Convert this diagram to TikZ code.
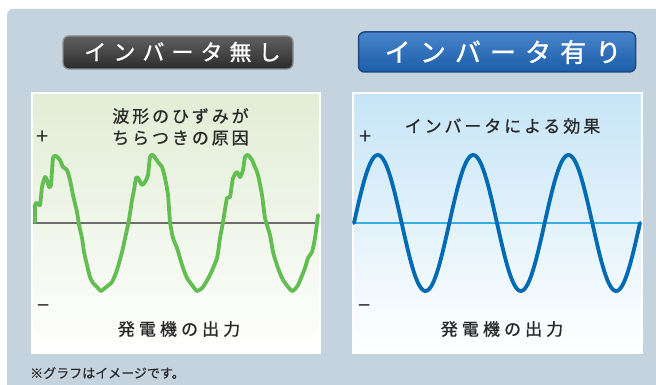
\documentclass[tikz,border=0pt]{standalone}
\usepackage{fontspec}
\setmainfont{Noto Sans CJK JP}
\definecolor{panelbg}{RGB}{197,211,223}
\definecolor{greentop}{RGB}{225,237,213}
\definecolor{bluetop}{RGB}{198,229,247}
\definecolor{wavegreen}{RGB}{98,190,80}
\definecolor{waveblue}{RGB}{0,106,180}
\definecolor{axisblue}{RGB}{58,174,226}
\definecolor{axisgray}{RGB}{110,110,110}
\definecolor{labelc}{RGB}{40,40,40}
\definecolor{btngraytop}{RGB}{96,96,96}
\definecolor{btngraybot}{RGB}{44,44,44}
\definecolor{btngrayedge}{RGB}{140,140,140}
\definecolor{btnbluetop}{RGB}{72,132,202}
\definecolor{btnbluebot}{RGB}{28,94,170}
\definecolor{btnblueedge}{RGB}{30,72,130}
\tikzset{
  chartbox/.style={draw=white, line width=1.5pt, inner sep=0pt},
  lbl/.style={text=labelc, inner sep=0pt, font=\fontsize{17}{19}\selectfont\addfontfeature{LetterSpace=17,FakeBold=0.8}},
  outlbl/.style={text=labelc, inner sep=0pt, font=\fontsize{17}{19}\selectfont\addfontfeature{LetterSpace=24,FakeBold=0.8}},
  signlbl/.style={text=labelc, inner sep=0pt, font=\fontsize{22}{24}\selectfont},
  btngray/.style={rounded corners=6pt, top color=btngraytop, bottom color=btngraybot, draw=btngrayedge, line width=1.3pt, inner sep=0pt},
  btnblue/.style={rounded corners=6pt, top color=btnbluetop, bottom color=btnbluebot, draw=btnblueedge, line width=1.5pt, inner sep=0pt},
  btntext/.style={text=white, inner sep=0pt},
  wave/.style={line width=3.8pt, line join=round, line cap=round}
}
\begin{document}
\begin{tikzpicture}[x=1pt, y=-1pt]
\useasboundingbox (0,0) rectangle (656,385);
\clip (0,0) rectangle (656,385);
\fill[white] (0,0) rectangle (656,385);
\fill[panelbg, rounded corners=6pt] (7,9) rectangle (690,420);

% buttons
\node[btngray, minimum width=230pt, minimum height=33pt] (btnL) at (178,52.5) {};
\node[btntext, font=\fontsize{22}{24}\selectfont\addfontfeature{LetterSpace=32,FakeBold=1}] (btnLt) at (179,52) {\hspace{7pt}インバータ無し};
\node[btnblue, minimum width=277pt, minimum height=40pt] (btnR) at (497,52) {};
\node[btntext, font=\fontsize{26}{28}\selectfont\addfontfeature{LetterSpace=35,FakeBold=1.2}] (btnRt) at (498.5,52) {\hspace{9pt}インバータ有り};

% chart panels
\node[chartbox, top color=greentop, middle color=white, bottom color=white, minimum width=288pt, minimum height=260pt] (chartL) at (176,223) {};
\node[chartbox, top color=bluetop, middle color=white, bottom color=white, minimum width=289pt, minimum height=260pt] (chartR) at (497.5,223) {};

% axes
\draw[axisgray, line width=1.3pt] (33,223) -- (319,223);
\draw[axisblue, line width=1.3pt] (354,223) -- (641,223);

% green distorted wave
\draw[wavegreen, wave] plot[smooth, tension=0.35] coordinates {
(35,222) (35,205) (37,203) (40,205) (42,187) (45,177) (47,180) (49,187) (51,185)
(53,158) (56,156) (60,160) (63,167) (67,170) (70,180) (73,195) (77,212) (79,225)
(82,238) (84,252) (87,265) (90,277) (93,283) (97,287) (101,291) (105,288) (112,282)
(117,270) (122,252) (126,234) (129,220) (132,200) (134,190) (136,178) (138,178) (142,185)
(145,182) (148,175) (150,157) (153,155) (158,162) (162,167) (165,178) (168,195)
(170,222) (173,238) (177,248) (180,258) (183,268) (187,278) (192,285) (197,291)
(203,287) (210,275) (217,258) (220,238) (223,222) (227,198) (230,197) (233,178)
(237,172) (240,177) (243,170) (245,157) (248,155) (252,160) (255,167) (258,175)
(262,195) (265,218) (270,235) (273,252) (278,268) (283,280) (292,291) (298,285)
(305,268) (308,258) (312,252) (315,238) (318,215)};

% blue sine wave
\draw[waveblue, wave] plot[domain=0:286, samples=240] ({354+\x}, {223-68*sin(3.7764*\x)});

% labels
\node[lbl] (capL1) at (179,116) {\hspace{3pt}波形のひずみが};
\node[lbl] (capL2) at (179,138) {\hspace{3pt}ちらつきの原因};
\node[lbl] (capR) at (501,126) {\hspace{3pt}インバータによる効果};
\node[outlbl] (outL) at (177,329) {\hspace{4pt}発電機の出力};
\node[outlbl] (outR) at (500,329) {\hspace{4pt}発電機の出力};

\node[signlbl] (plusL) at (43,138) {+};
\node[signlbl] (plusR) at (365.5,138) {+};
\node[signlbl] (minusL) at (43.5,309) {−};
\node[signlbl] (minusR) at (364.5,309) {−};

\node[text=labelc, inner sep=0pt, anchor=west, font=\fontsize{13}{15}\selectfont\addfontfeature{FakeBold=0.3}] (note) at (30,373) {※グラフはイメージです。};
\end{tikzpicture}
\end{document}
